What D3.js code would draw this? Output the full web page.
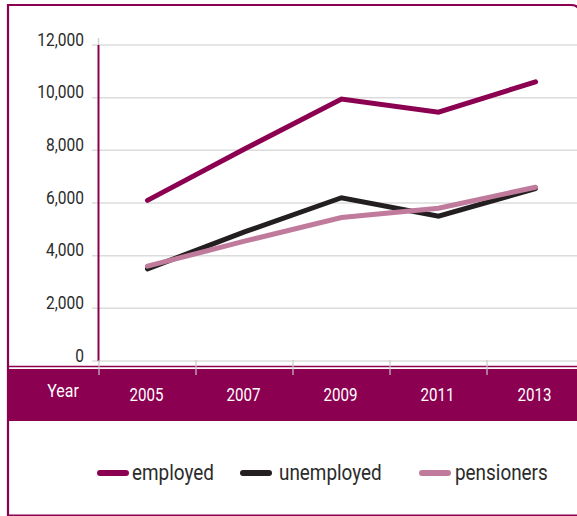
<!DOCTYPE html>
<html>
<head>
<meta charset="utf-8">
<script src="https://cdn.jsdelivr.net/npm/d3@7"></script>
<style>
  html, body { margin: 0; padding: 0; background: #fff; }
  svg { display: block; }
  text { font-family: Roboto, "Noto Sans", sans-serif; }
</style>
</head>
<body>
<svg id="chart" width="577" height="516"></svg>
<script>
const years = ["2005", "2007", "2009", "2011", "2013"];
const employed = [6100, 8050, 9950, 9450, 10600];
const unemployed = [3500, 4900, 6200, 5500, 6550];
const pensioners = [3600, 4550, 5450, 5800, 6600];
const yTicks = [0, 2000, 4000, 6000, 8000, 10000, 12000];
const seriesNames = ["employed", "unemployed", "pensioners"];
const seriesColors = ["#8b0051", "#231f20", "#c07b9c"];

const magenta = "#8b0051";
const SX = 0.84; // horizontal condensing of the font
const svg = d3.select("#chart");

const x = d3.scaleBand().domain(years).range([99, 584]);
const y = d3.scaleLinear().domain([0, 12000]).range([361, 45]);

// outer frame (right side runs off the canvas, rounded top-right corner)
svg.append("path")
  .attr("d", "M582,515.5 H8 V5 H571 Q580,5 580,14 V515.5")
  .attr("fill", "none").attr("stroke", magenta).attr("stroke-width", 2.2);

// gridlines
svg.append("g").selectAll("line").data(yTicks).join("line")
  .attr("x1", 92).attr("x2", 577)
  .attr("y1", d => y(d)).attr("y2", d => y(d))
  .attr("stroke", "#dcdcdc").attr("stroke-width", 1.5);

// y tick labels
svg.append("g").selectAll("text").data(yTicks).join("text")
  .attr("transform", d => `translate(84,${y(d) + 0.5}) scale(${SX},1)`)
  .attr("text-anchor", "end")
  .attr("font-size", 18.5).attr("fill", "#2b2b2b")
  .text(d => d3.format(",")(d));

// y axis line
svg.append("line").attr("x1", 98.5).attr("x2", 98.5).attr("y1", 38).attr("y2", 45)
  .attr("stroke", "#d0d0d0").attr("stroke-width", 1.5);
svg.append("line").attr("x1", 98.5).attr("x2", 98.5).attr("y1", y(12000)).attr("y2", y(0))
  .attr("stroke", magenta).attr("stroke-width", 2);

// bottom band
svg.append("line").attr("x1", 8).attr("x2", 577).attr("y1", 366.5).attr("y2", 366.5)
  .attr("stroke", magenta).attr("stroke-width", 1.6);
svg.append("rect").attr("x", 8).attr("y", 369).attr("width", 569).attr("height", 52)
  .attr("fill", magenta);

// band separators (ticks)
const seps = years.map(d => x(d)).concat([x(years[years.length - 1]) + x.bandwidth()]);
svg.append("g").selectAll("line").data(seps).join("line")
  .attr("x1", d => d).attr("x2", d => d)
  .attr("y1", 360).attr("y2", 375)
  .attr("stroke", "#c8c8c8").attr("stroke-width", 1.2);

svg.append("text").attr("transform", `translate(63,397) scale(${SX},1)`)
  .attr("text-anchor", "middle")
  .attr("font-size", 19).attr("fill", "#fff").text("Year");

svg.append("g").selectAll("text").data(years).join("text")
  .attr("transform", d => `translate(${x(d) + x.bandwidth() / 2 - 1},400.5) scale(${SX},1)`)
  .attr("text-anchor", "middle")
  .attr("font-size", 18).attr("fill", "#fff")
  .text(d => d);

// lines
const line = d3.line()
  .x((d, i) => x(years[i]) + x.bandwidth() / 2)
  .y(d => y(d));
const seriesData = [employed, unemployed, pensioners];
const drawOrder = [1, 2, 0];
drawOrder.forEach(i => {
  svg.append("path").datum(seriesData[i])
    .attr("d", line)
    .attr("fill", "none")
    .attr("stroke", seriesColors[i])
    .attr("stroke-width", 5)
    .attr("stroke-linecap", "round")
    .attr("stroke-linejoin", "miter");
});

// legend
const legendX = [98, 241, 420];
const lg = svg.append("g").selectAll("g").data(seriesNames).join("g")
  .attr("transform", (d, i) => `translate(${legendX[i]},473)`);
lg.append("line").attr("x1", 2).attr("x2", 28).attr("y1", 0).attr("y2", 0)
  .attr("stroke", (d, i) => seriesColors[i]).attr("stroke-width", 6)
  .attr("stroke-linecap", "round");
lg.append("text")
  .attr("transform", (d, i) => `translate(${[34, 38, 35][i]},6.5) scale(${SX},1)`)
  .attr("font-size", 22.5).attr("fill", "#2b2b2b")
  .text(d => d);
</script>
</body>
</html>
